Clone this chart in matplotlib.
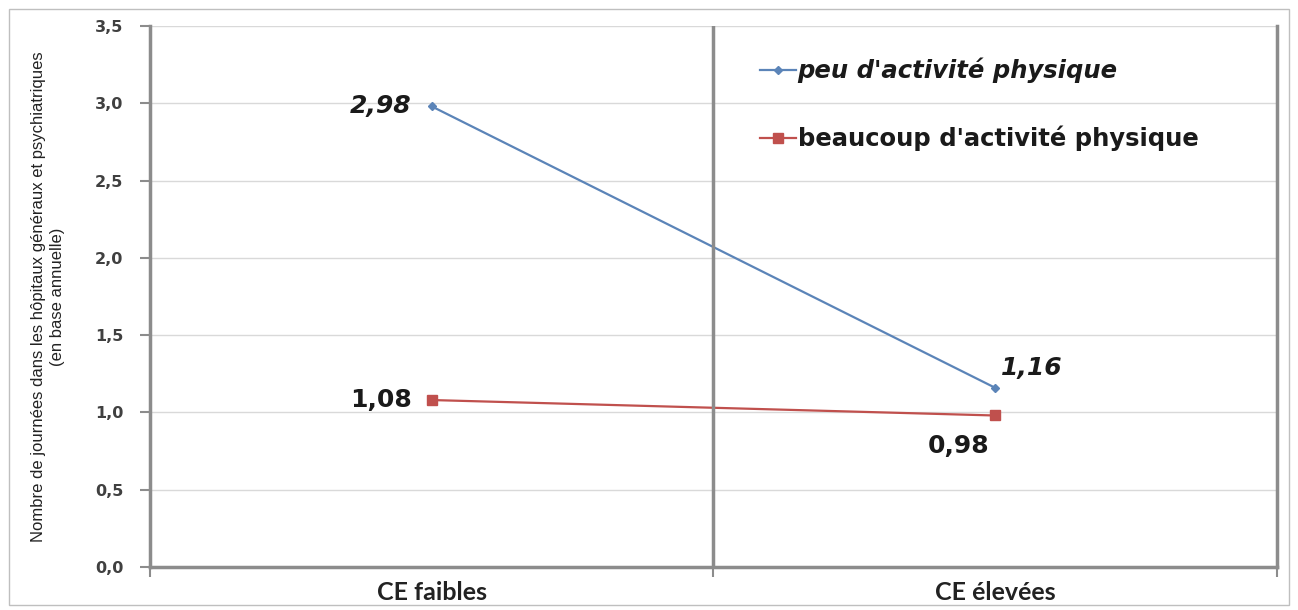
import matplotlib.pyplot as plt
from matplotlib.ticker import FuncFormatter
from matplotlib.patches import Rectangle

categories = ["CE faibles", "CE élevées"]
peu = [2.98, 1.16]
beaucoup = [1.08, 0.98]
peu_labels = ["2,98", "1,16"]
beaucoup_labels = ["1,08", "0,98"]
yticks = [0.0, 0.5, 1.0, 1.5, 2.0, 2.5, 3.0, 3.5]

blue = "#5b84b8"
red = "#c0504d"
axis_gray = "#8c8c8c"

fig = plt.figure(figsize=(12.98, 6.10), dpi=100)
ax = fig.add_axes([0.1155, 0.0705, 0.868, 0.887])

x = [0, 1]
ax.plot(x, peu, color=blue, lw=1.6, marker="D", ms=4, label="peu d'activité physique")
ax.plot(x, beaucoup, color=red, lw=1.6, marker="s", ms=7, label="beaucoup d'activité physique")

ax.set_xlim(-0.5, 1.5)
ax.set_ylim(0, 3.5)
ax.set_yticks(yticks)
ax.yaxis.set_major_formatter(FuncFormatter(lambda v, p: f"{v:.1f}".replace(".", ",")))
ax.set_xticks([-0.5, 0.5, 1.5])
ax.set_xticklabels([])
ax.tick_params(axis="both", colors=axis_gray, width=1.5, length=7, labelcolor="#404040")
ax.tick_params(axis="y", pad=12)
for lab in ax.get_yticklabels():
    lab.set_fontweight("bold")
    lab.set_fontsize(11.5)
    lab.set_family("DejaVu Sans")

ax.grid(axis="y", color="#d9d9d9", lw=1)
ax.set_axisbelow(True)
ax.axvline(0.5, color=axis_gray, lw=2.5)
for s in ["left", "bottom", "right"]:
    ax.spines[s].set_color(axis_gray)
    ax.spines[s].set_linewidth(2.5)
ax.spines["top"].set_visible(False)

for i, c in enumerate(categories):
    ax.text(x[i], -0.165, c, ha="center", va="center", fontsize=18, fontweight="bold",
            family=["Lato", "DejaVu Sans"], color="#222222")

# data labels
lbl = dict(fontsize=18, fontweight="bold", color="#1a1a1a", family="DejaVu Sans")
ax.text(x[0] - 0.035, peu[0], peu_labels[0], ha="right", va="center", fontstyle="italic", **lbl)
ax.text(x[1] + 0.01, peu[1] + 0.13, peu_labels[1], ha="left", va="center", fontstyle="italic", **lbl)
ax.text(x[0] - 0.035, beaucoup[0], beaucoup_labels[0], ha="right", va="center", **lbl)
ax.text(x[1] - 0.065, beaucoup[1] - 0.2, beaucoup_labels[1], ha="center", va="center", **lbl)

ax.set_ylabel("Nombre de journées dans les hôpitaux généraux et psychiatriques\n(en base annuelle)",
              fontsize=12, family=["Liberation Sans", "DejaVu Sans"], color="#222222",
              labelpad=22, linespacing=1.3)

leg = ax.legend(loc="upper left", bbox_to_anchor=(0.522, 0.982), frameon=False,
                handlelength=1.5, handletextpad=0.05, labelspacing=1.75,
                prop={"family": "DejaVu Sans", "size": 17.5})
texts = leg.get_texts()
texts[0].set_fontweight("bold")
texts[0].set_fontstyle("italic")
texts[1].set_fontweight("bold")
for t in texts:
    t.set_color("#1a1a1a")

fig.patches.append(Rectangle((0.007, 0.008), 0.986, 0.978, transform=fig.transFigure,
                             fill=False, edgecolor="#bfbfbf", lw=1))

fig.savefig("out.png", dpi=100)
